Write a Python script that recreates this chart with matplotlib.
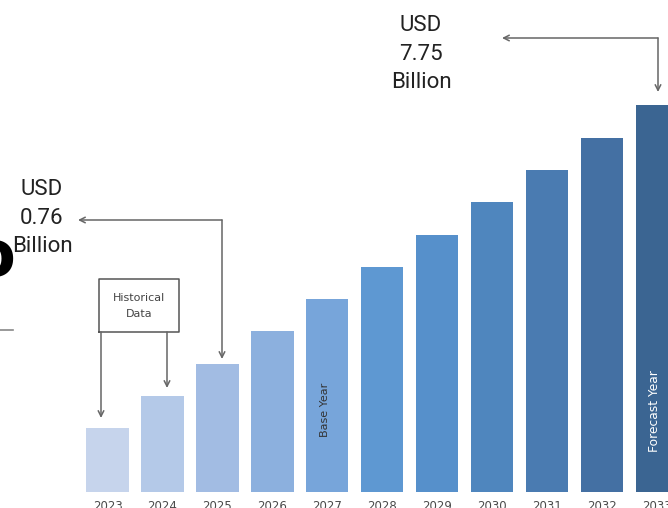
import matplotlib.pyplot as plt

# bar heights (relative units, baseline = 0)
years = ['2023', '2024', '2025', '2026', '2027', '2028',
         '2029', '2030', '2031', '2032', '2033']
heights = [64, 96, 128, 161, 193, 225, 257, 290, 322, 354, 387]
bar_colors = ['#c6d4ec', '#b4c9e8', '#a2bce3', '#8cb0de', '#77a5da', '#5e98d2',
              '#5690cb', '#4f86be', '#4a7bb1', '#4470a3', '#3b6592']
start_label = 'USD\n0.76\nBillion'
end_label = 'USD\n7.75\nBillion'

W, H = 668, 508
fig = plt.figure(figsize=(W / 100, H / 100), dpi=100)
ax = fig.add_axes([0, 0, 1, 1])
step, x0 = 54.95, 107.5
ax.set_xlim(-x0 / step, (W - x0) / step)
ax.set_ylim(-16, 492)
ax.axis('off')


def px(x):
    # pixel column -> bar index units
    return (x - x0) / step


xs = list(range(len(years)))
ax.bar(xs, heights, width=0.77, color=bar_colors)
for x, y in zip(xs, years):
    ax.text(x, -8, y, ha='center', va='top', fontsize=8.5, color='#4a4a4a')

ax.text(xs[4] - 0.05, 82, 'Base Year', rotation=90, ha='center', va='center',
        fontsize=8, color='#333333')
ax.text(xs[10] - 0.05, 81, 'Forecast Year', rotation=90, ha='center', va='center',
        fontsize=8.8, color='white')

arrow_kw = dict(arrowstyle='->', color='#666666', lw=1.1, shrinkA=0, shrinkB=0)

# historical data box with two arrows
box_l, box_r, box_b, box_t = px(99), px(179), 160, 213
ax.plot([box_l, box_r, box_r, box_l, box_l], [box_b, box_b, box_t, box_t, box_b],
        color='#555555', lw=1.1)
ax.text((box_l + box_r) / 2, 194, 'Historical', ha='center', va='center',
        fontsize=8, color='#444444')
ax.text((box_l + box_r) / 2, 178, 'Data', ha='center', va='center',
        fontsize=8, color='#444444')
ax.annotate('', xy=(px(101), heights[0] + 10), xytext=(px(101), box_b), arrowprops=arrow_kw)
ax.annotate('', xy=(px(167), heights[1] + 8), xytext=(px(167), box_b), arrowprops=arrow_kw)

# start value callout
cx, cy = px(222), 272
ax.annotate('', xy=(cx, heights[2] + 5), xytext=(cx, cy), arrowprops=arrow_kw)
ax.annotate('', xy=(px(78), cy), xytext=(cx, cy), arrowprops=arrow_kw)
ax.text(px(42), 274, start_label, ha='center', va='center', fontsize=16,
        family='Roboto', color='#222222', linespacing=1.45)

# end value callout
cx, cy = px(658), 454
ax.annotate('', xy=(cx, heights[10] + 13), xytext=(cx, cy), arrowprops=arrow_kw)
ax.annotate('', xy=(px(502), cy), xytext=(cx, cy), arrowprops=arrow_kw)
ax.text(px(421), 438, end_label, ha='center', va='center', fontsize=16,
        family='Roboto', color='#222222', linespacing=1.45)

# bits of the neighbouring panel cut off at the left edge
fig.text(15 / W, 1 - 258 / H, 'o', ha='right', va='center', fontsize=46,
         fontweight='bold', color='black')
ax.plot([px(0), px(13)], [162, 162], color='#888888', lw=1.2)

fig.savefig('out.png', dpi=100, facecolor='white')
